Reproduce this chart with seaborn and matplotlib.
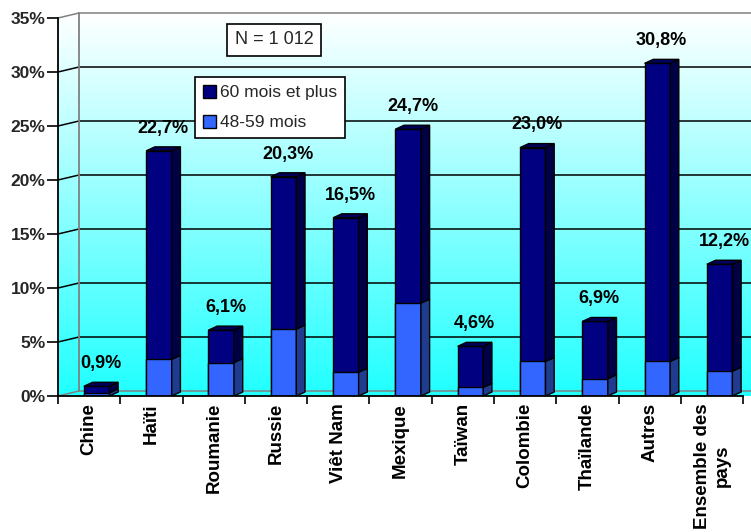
import numpy as np
import pandas as pd
import matplotlib
matplotlib.use("Agg")
import matplotlib.pyplot as plt
import seaborn as sns
from matplotlib.patches import Polygon, Patch
from matplotlib.colors import LinearSegmentedColormap

# ---------------- data ----------------
categories = ["Chine", "Haïti", "Roumanie", "Russie", "Viêt Nam", "Mexique",
              "Taïwan", "Colombie", "Thaïlande", "Autres", "Ensemble des\npays"]
total_pct = [0.9, 22.7, 6.1, 20.3, 16.5, 24.7, 4.6, 23.0, 6.9, 30.8, 12.2]
pct_48_59 = [0.3, 3.4, 3.1, 6.2, 2.2, 8.6, 0.8, 3.2, 1.6, 3.2, 2.3]
series_names = ["60 mois et plus", "48-59 mois"]
yticks = [0, 5, 10, 15, 20, 25, 30, 35]
note_text = "N = 1 012"

DARK = "#000080"
LIGHT = "#3366FF"
DARK_SIDE = "#000045"
DARK_TOP = "#00005C"
LIGHT_SIDE = "#1F3C8F"

df = pd.DataFrame({"pays": categories, "total": total_pct, "m48": pct_48_59})

sns.set_theme(style="white")
plt.rcParams["font.family"] = ["Liberation Sans", "DejaVu Sans"]

W, H = 751, 532
fig = plt.figure(figsize=(W / 100, H / 100), dpi=100)
fig.patch.set_facecolor("white")
px_per_cat = 62.3
px_per_pct = 10.8
ax = fig.add_axes([58 / W, 136 / H, 693 / W, 36.6 * px_per_pct / H])
xmax = -0.5 + 693 / px_per_cat
ax.set_facecolor("white")

# back-wall geometry
bx = 21 / px_per_cat
by = 5 / px_per_pct

# gradient background
cmap = LinearSegmentedColormap.from_list("wall", ["#20FFFF", "#FFFFFF"])
grad = np.linspace(0, 1, 256).reshape(-1, 1)
ax.imshow(grad, extent=(-0.5, xmax, 0, 35 + by), origin="lower", cmap=cmap,
          aspect="auto", zorder=0, interpolation="bicubic")

# gridlines with perspective slant
for v in yticks:
    col = "#808080" if v in (0, 35) else "black"
    ax.plot([-0.5, -0.5 + bx], [v, v + by], color=col, lw=1.1, zorder=1,
            solid_capstyle="butt")
    ax.plot([-0.5 + bx, xmax], [v + by, v + by], color=col, lw=1.1, zorder=1)
ax.plot([-0.5 + bx, -0.5 + bx], [by, 35 + by], color="#808080", lw=1.3, zorder=1)

# bars
bw = 0.41
sns.barplot(data=df, x="pays", y="total", color=DARK, saturation=1, width=bw,
            edgecolor="black", linewidth=1, ax=ax, zorder=3)
sns.barplot(data=df, x="pays", y="m48", color=LIGHT, saturation=1, width=bw,
            edgecolor="black", linewidth=1, ax=ax, zorder=3)

n = len(categories)
shift = 0.12
dx = 0.14
dy = 0.37
tot_patches = ax.patches[:n]
light_patches = ax.patches[n:2 * n]
for p in list(tot_patches) + list(light_patches):
    p.set_x(p.get_x() + shift)

for i in range(n):
    tp = tot_patches[i]
    lp = light_patches[i]
    x0 = tp.get_x()
    x1 = x0 + tp.get_width()
    h = tp.get_height()
    hl = lp.get_height()
    # light side
    ax.add_patch(Polygon([(x1, 0), (x1 + dx, dy), (x1 + dx, hl + dy), (x1, hl)],
                         closed=True, facecolor=LIGHT_SIDE, edgecolor="black",
                         lw=1, zorder=3))
    # dark side
    ax.add_patch(Polygon([(x1, hl), (x1 + dx, hl + dy), (x1 + dx, h + dy), (x1, h)],
                         closed=True, facecolor=DARK_SIDE, edgecolor="black",
                         lw=1, zorder=3))
    # top
    ax.add_patch(Polygon([(x0, h), (x0 + dx, h + dy), (x1 + dx, h + dy), (x1, h)],
                         closed=True, facecolor=DARK_TOP, edgecolor="black",
                         lw=1, zorder=3))
    lab = f"{h:.1f}%".replace(".", ",")
    ax.text(x0 + (bw + dx) / 2, h + 2.1, lab, ha="center",
            va="center", fontsize=13, fontweight="bold", color="black", zorder=4)

# axes formatting
ax.set_xlim(-0.5, xmax)
ax.set_ylim(0, 36.6)
ax.set_xlabel("")
ax.set_ylabel("")
ax.set_xticks(np.arange(n))
ax.set_xticklabels(categories, rotation=90, fontsize=13.5, fontweight="bold",
                   ha="center", va="top", multialignment="center")
ax.set_xticks(np.arange(-0.5, n, 1), minor=True)
ax.tick_params(axis="x", which="major", length=0, pad=5, colors="black")
ax.tick_params(axis="x", which="minor", length=6, width=1.2, direction="out",
               color="black", bottom=True)
ax.set_yticks(yticks)
ax.set_yticklabels([f"{v}%" for v in yticks], fontsize=12.5, fontweight="bold")
ax.tick_params(axis="y", length=8, width=1.2, direction="out", color="black",
               pad=1, left=True)
for s in ("top", "right"):
    ax.spines[s].set_visible(False)
ax.spines["left"].set_bounds(0, 35)
ax.spines["bottom"].set_bounds(-0.5, n - 0.5)
for s in ("left", "bottom"):
    ax.spines[s].set_color("black")
    ax.spines[s].set_linewidth(1.3)
    ax.spines[s].set_zorder(5)
ax.grid(False)

# legend
handles = [Patch(facecolor=DARK, edgecolor="black", label=series_names[0]),
           Patch(facecolor=LIGHT, edgecolor="black", label=series_names[1])]
leg = ax.legend(handles=handles, loc="upper left",
                bbox_to_anchor=(195 / W, 1 - 77 / H), bbox_transform=fig.transFigure,
                frameon=True, fancybox=False, edgecolor="black", framealpha=1,
                fontsize=12.5, handlelength=0.75, handleheight=0.75,
                handletextpad=0.25, labelspacing=0.85, borderpad=0.45,
                borderaxespad=0)
leg.get_frame().set_linewidth(1.2)
leg.set_zorder(6)

fig.text(274 / W, 1 - 40 / H, note_text, ha="center", va="center", fontsize=13,
         bbox=dict(boxstyle="square,pad=0.4", facecolor="white",
                   edgecolor="black", linewidth=1.2))

fig.savefig("out.png", dpi=100)
